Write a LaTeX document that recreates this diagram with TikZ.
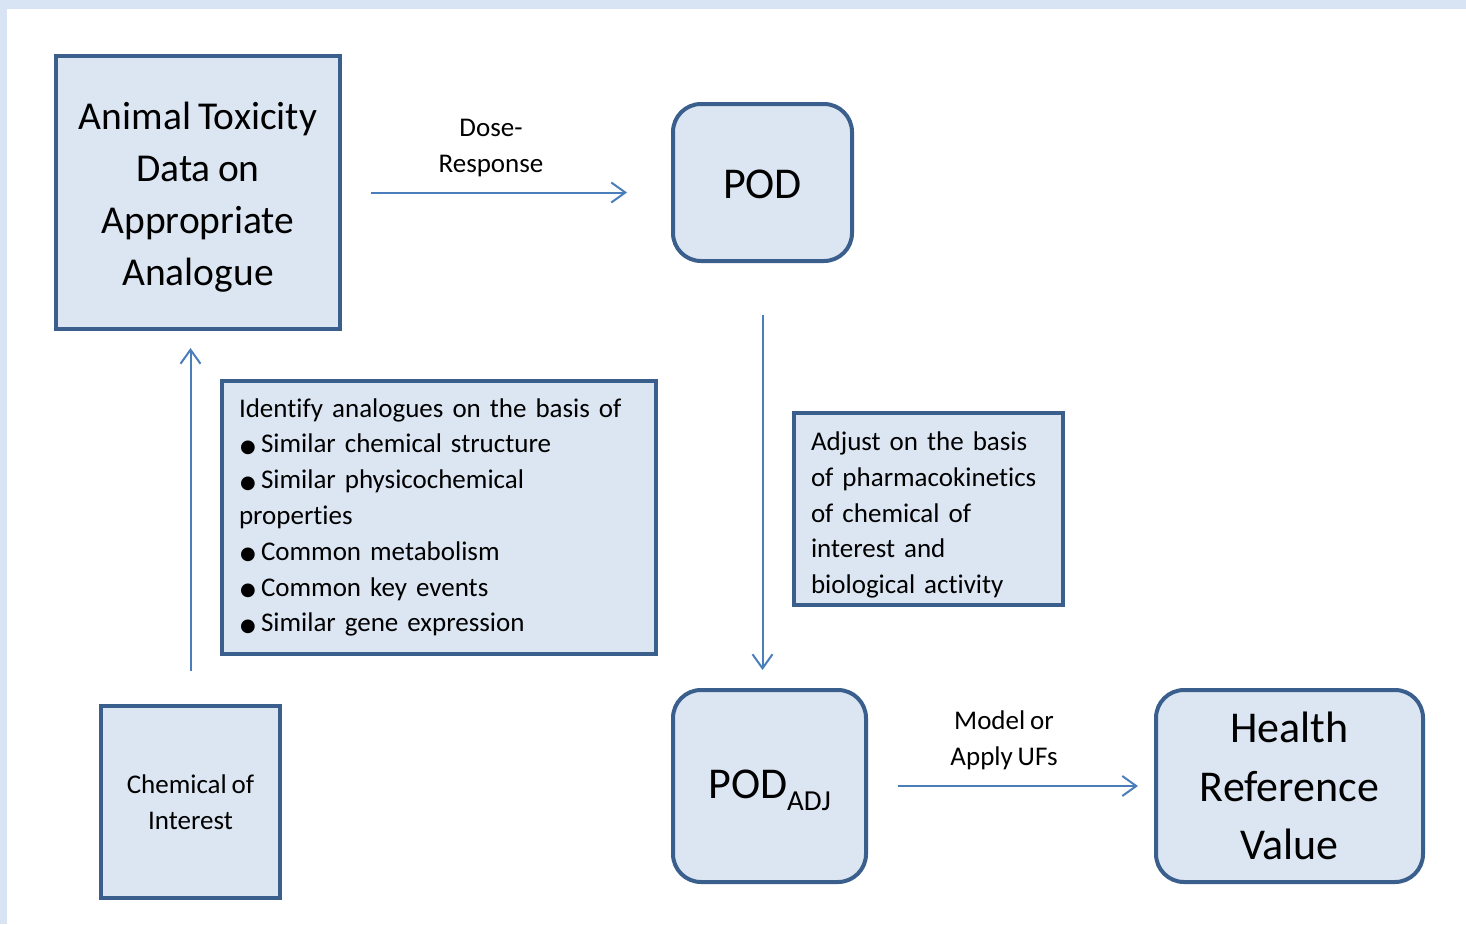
\documentclass[tikz,border=0pt]{standalone}
\usepackage{fontspec}
\setmainfont[Ligatures=NoCommon,WordSpace=0.8]{Carlito}
\newfontfamily\dvfont{DejaVu Sans}
\usetikzlibrary{arrows.meta}
\definecolor{bordc}{HTML}{3A5F8C}
\definecolor{fillc}{HTML}{DCE6F2}
\definecolor{arrc}{HTML}{4A7EBB}
\definecolor{edgec}{HTML}{D8E4F3}
\newcommand{\blt}{\makebox[22pt][l]{\hspace{1pt}\dvfont\fontsize{18}{18}\selectfont\raisebox{0.5pt}{●}}}
\tikzset{
  sqbox/.style={draw=bordc, fill=fillc, line width=4pt, rectangle, inner sep=0pt},
  rdbox/.style={sqbox, rounded corners=28pt},
  txt/.style={inner sep=0pt},
  arr/.style={draw=arrc, line width=2pt, -{Straight Barb[length=14pt,width=20pt,line width=2pt]}},
  lbl/.style={align=center, font=\fontsize{27}{36}\selectfont, inner sep=0pt}
}
\begin{document}
\begin{tikzpicture}[x=1pt,y=-1pt]
\fill[edgec] (0,0) rectangle (1466,924);
\fill[white] (7,9) rectangle (1466,924);
\useasboundingbox (0,0) rectangle (1466,924);

\node[sqbox, minimum width=284pt, minimum height=273pt] (anim) at (198,192.5) {};
\node[txt, align=center, font=\fontsize{39.5}{52}\selectfont] (animtxt)
  at ([yshift=-5pt]anim.center) {Animal Toxicity\\Data on\\Appropriate\\Analogue};

\node[rdbox, minimum width=179pt, minimum height=157pt] (pod) at (762.5,182.5) {};
\node[txt, font=\fontsize{44}{52}\selectfont] (podtxt) at ([yshift=-2pt]pod.center) {POD};

\node[sqbox, minimum width=434pt, minimum height=273pt, text width=400pt,
      inner xsep=17pt, align=left, font=\fontsize{27}{35.8}\selectfont] (ident) at (439,517.5)
  {Identify analogues on the basis of\\
   \blt Similar chemical structure\\
   \blt Similar physicochemical\\
   properties\\
   \blt Common metabolism\\
   \blt Common key events\\
   \blt Similar gene expression};

\node[sqbox, minimum width=269pt, minimum height=192pt] (adj) at (928.5,509) {};
\node[txt, text width=235pt, align=left, font=\fontsize{27}{35.7}\selectfont] (adjtxt)
  at ([yshift=-6pt]adj.center)
  {Adjust on the basis\\of pharmacokinetics\\of chemical of\\interest and\\biological activity};

\node[sqbox, minimum width=179pt, minimum height=192pt, align=center,
      font=\fontsize{27}{36}\selectfont] (chem) at (190.5,802)
  {Chemical of\\Interest};

\node[rdbox, minimum width=193pt, minimum height=192pt] (podadj) at (769.5,786) {};
\node[txt, font=\fontsize{44}{52}\selectfont] (podadjtxt) at ([yshift=-4pt]podadj.center)
  {POD\raisebox{-12pt}{\fontsize{29}{29}\selectfont ADJ}};

\node[rdbox, minimum width=267pt, minimum height=192pt, align=center,
      font=\fontsize{44}{58.5}\selectfont] (hrv) at (1289.5,786)
  {Health\\Reference\\Value};

\node[lbl] (dose) at (491,148) {Dose-\\Response};
\node[lbl] (model) at (1004,740) {Model or\\Apply UFs};

\draw[arr] ([xshift=29pt]anim.east) -- ([xshift=-44pt]anim.east -| pod.west);
\draw[arr] ([yshift=-52pt]pod.south) -- ([yshift=18pt]pod.south |- podadj.north);
\draw[arr] ([yshift=33pt]chem.north) -- ([yshift=-17pt]chem.north |- anim.south);
\draw[arr] ([xshift=30pt]podadj.east) -- ([xshift=-16pt]podadj.east -| hrv.west);
\end{tikzpicture}
\end{document}
